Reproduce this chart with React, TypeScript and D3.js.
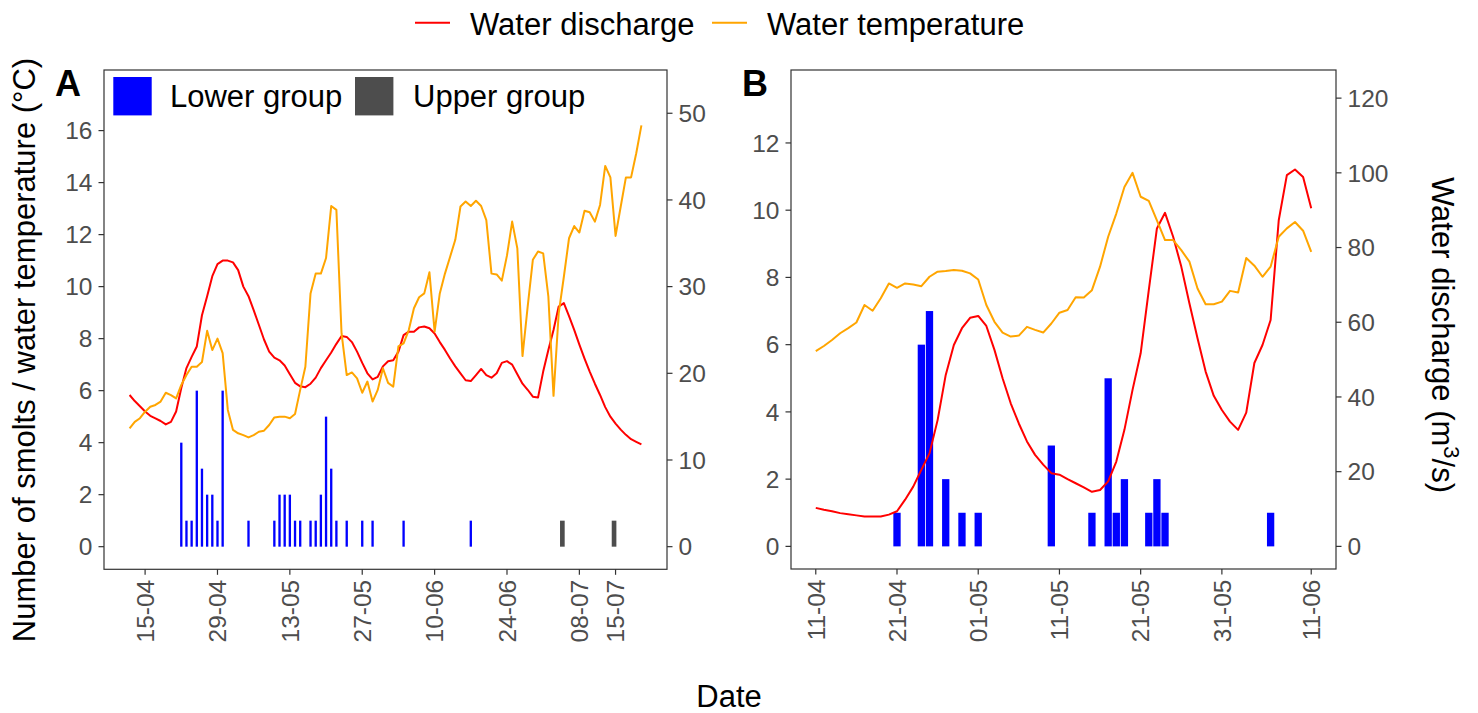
import React from 'react';
import * as d3 from 'd3';

// ---------- Panel A data ----------
const A_START = '2019-04-12';
const A_TEMP = [
  4.55, 4.8, 4.94, 5.19, 5.38, 5.45, 5.58, 5.92, 5.83, 5.7,
  6.22, 6.6, 6.92, 6.92, 7.1, 8.3, 7.56, 8.0, 7.44, 5.26,
  4.49, 4.36, 4.29, 4.2, 4.29, 4.42, 4.46, 4.68, 4.97, 5.0,
  5.0, 4.94, 5.1, 6.03, 6.92, 9.74, 10.5, 10.5, 11.1, 13.1,
  12.95, 8.2, 6.6, 6.7, 6.47, 5.92, 6.35, 5.58, 6.03, 6.86,
  6.3, 6.15, 7.7, 7.82, 8.33, 9.17, 9.59, 9.74, 10.55, 8.27,
  9.74, 10.5, 11.15, 11.8, 13.08, 13.27, 13.1, 13.3, 13.1, 12.56,
  10.5, 10.47, 10.23, 11.2, 12.5, 11.47, 7.33, 9.23, 11.03, 11.35,
  11.28, 9.62, 5.8, 8.97, 10.38, 11.86, 12.33, 12.08, 12.92, 12.86,
  12.5, 13.14, 14.64, 14.2, 11.95, 13.08, 14.2, 14.2, 15.13, 16.2,
];
const A_DISCHARGE = [
  17.5, 16.8, 16.2, 15.6, 15.1, 14.8, 14.5, 14.1, 14.4, 15.6,
  18.3, 20.6, 21.9, 23.1, 26.7, 28.9, 31.2, 32.6, 33.0, 33.0,
  32.8, 31.9, 30.0, 28.9, 27.3, 25.6, 23.9, 22.5, 21.8, 21.5,
  20.9, 19.9, 18.9, 18.5, 18.4, 18.8, 19.5, 20.6, 21.5, 22.4,
  23.4, 24.3, 24.2, 23.6, 22.5, 21.2, 20.0, 19.3, 19.6, 20.8,
  21.4, 21.5, 22.5, 24.4, 24.8, 24.8, 25.3, 25.4, 25.2, 24.6,
  23.6, 22.7, 21.7, 20.8, 20.0, 19.2, 19.1, 19.8, 20.5, 19.8,
  19.5, 20.0, 21.2, 21.4, 21.0, 19.9, 18.8, 18.1, 17.3, 17.2,
  20.2, 22.7, 25.0, 27.7, 28.1, 26.6, 25.0, 23.3, 21.7, 20.2,
  18.8, 17.5, 16.1, 15.0, 14.2, 13.5, 12.9, 12.4, 12.1, 11.8,
];
const A_LOWER_DATES = [
  '2019-04-22', '2019-04-23', '2019-04-24', '2019-04-25', '2019-04-26',
  '2019-04-27', '2019-04-28', '2019-04-29', '2019-04-30', '2019-05-05',
  '2019-05-10', '2019-05-11', '2019-05-12', '2019-05-13', '2019-05-14',
  '2019-05-15', '2019-05-17', '2019-05-18', '2019-05-19', '2019-05-20',
  '2019-05-21', '2019-05-22', '2019-05-24', '2019-05-27', '2019-05-29',
  '2019-06-04', '2019-06-17',
];
const A_LOWER_COUNTS = [
  4, 1, 1, 6, 3, 2, 2, 1, 6, 1,
  1, 2, 2, 2, 1, 1, 1, 1, 2, 5,
  3, 1, 1, 1, 1, 1, 1,
];
const A_UPPER_DATES = ['2019-07-04T17:00', '2019-07-14T17:00'];
const A_UPPER_COUNTS = [1, 1];
const A_X_TICKS = ['2019-04-15', '2019-04-29', '2019-05-13', '2019-05-27', '2019-06-10', '2019-06-24', '2019-07-08', '2019-07-15'];
const A_Y_TICKS = [0, 2, 4, 6, 8, 10, 12, 14, 16];
const A_Y2_TICKS = [0, 10, 20, 30, 40, 50];
const A_RATIO = 3;
const A_Y_DOMAIN = [-0.87, 18.33];

// ---------- Panel B data ----------
const B_START = '2019-04-11';
const B_TEMP = [
  5.81, 5.96, 6.14, 6.34, 6.49, 6.66, 7.18, 7.01, 7.38, 7.82,
  7.69, 7.82, 7.79, 7.74, 8.02, 8.17, 8.19, 8.22, 8.2, 8.12,
  7.94, 7.18, 6.68, 6.36, 6.24, 6.27, 6.53, 6.44, 6.36, 6.63,
  6.95, 7.03, 7.41, 7.4, 7.62, 8.32, 9.21, 9.9, 10.69, 11.11,
  10.4, 10.28, 9.7, 9.11, 9.11, 8.81, 8.47, 7.67, 7.2, 7.2,
  7.28, 7.6, 7.55, 8.58, 8.35, 8.02, 8.32, 9.21, 9.46, 9.65,
  9.39, 8.76,
];
const B_DISCHARGE = [
  10.3, 9.8, 9.4, 8.9, 8.6, 8.3, 8.0, 8.0, 8.0, 8.5,
  9.4, 12.5, 16.0, 20.5, 24.9, 33.8, 45.9, 53.9, 58.4, 61.2,
  61.7, 59.0, 52.6, 45.0, 38.3, 32.9, 28.1, 24.5, 21.9, 19.6,
  19.2, 18.0, 16.9, 15.8, 14.6, 15.1, 17.4, 22.7, 31.2, 41.9,
  51.7, 68.6, 85.1, 89.3, 82.9, 74.9, 65.1, 55.7, 46.8, 40.3,
  36.5, 33.4, 31.2, 35.8, 49.1, 53.9, 60.6, 87.3, 99.4, 100.9,
  98.9, 90.5,
];
const B_LOWER_DATES = [
  '2019-04-21', '2019-04-24', '2019-04-25', '2019-04-27', '2019-04-29',
  '2019-05-01', '2019-05-10', '2019-05-15', '2019-05-17', '2019-05-18',
  '2019-05-19', '2019-05-22', '2019-05-23', '2019-05-24', '2019-06-06',
];
const B_LOWER_COUNTS = [1, 6, 7, 2, 1, 1, 3, 1, 5, 1, 2, 1, 2, 1, 1];
const B_X_TICKS = ['2019-04-11', '2019-04-21', '2019-05-01', '2019-05-11', '2019-05-21', '2019-05-31', '2019-06-11'];
const B_Y_TICKS = [0, 2, 4, 6, 8, 10, 12];
const B_Y2_TICKS = [0, 20, 40, 60, 80, 100, 120];
const B_RATIO = 9;
const B_Y_DOMAIN = [-0.673, 14.17];

// ---------- style ----------
const FONT = "'Liberation Sans', Arial, Helvetica, sans-serif";
const RED = '#FF0000';
const ORANGE = '#FFA500';
const BLUE = '#0000FF';
const GREY = '#4D4D4D';
const AXIS = '#333333';
const TICK_TXT = '#4D4D4D';
const DAY = 86400000;

const parse = (s: string) => {
  const p = d3.utcParse('%Y-%m-%dT%H:%M')(s) || d3.utcParse('%Y-%m-%d')(s);
  return p as Date;
};
const seriesDates = (start: string, n: number) => {
  const s = parse(start);
  return d3.range(n).map((i) => d3.utcDay.offset(s, i));
};
const fmt = d3.utcFormat('%d-%m');

interface Bars { dates: string[]; counts: number[]; color: string; width: number }

interface PanelProps {
  x0: number; x1: number; top: number; bottom: number;
  start: string; temp: number[]; discharge: number[]; ratio: number;
  yDomain: number[]; yTicks: number[]; y2Ticks: number[]; xTicks: string[];
  bars: Bars[]; tag: string;
}

function Panel(p: PanelProps) {
  const dates = seriesDates(p.start, p.temp.length);
  const [d0, d1] = d3.extent(dates) as [Date, Date];
  const span = +d1 - +d0;
  const x = d3.scaleUtc()
    .domain([new Date(+d0 - 0.05 * span), new Date(+d1 + 0.05 * span)])
    .range([p.x0, p.x1]);
  const y = d3.scaleLinear().domain(p.yDomain).range([p.bottom, p.top]);
  const y2 = d3.scaleLinear().domain(p.yDomain.map((v) => v * p.ratio)).range([p.bottom, p.top]);

  const tempLine = d3.line<number>().x((_, i) => x(dates[i])).y((v) => y(v));
  const disLine = d3.line<number>().x((_, i) => x(dates[i])).y((v) => y2(v));

  const tl = 5.5;
  return (
    <g>
      {p.bars.map((b, bi) =>
        b.dates.map((ds, i) => {
          const dt = parse(ds);
          const w = x(new Date(+dt + b.width * DAY)) - x(dt);
          const cx = x(dt);
          return (
            <rect key={`${bi}-${i}`} x={cx - w / 2} width={w} y={y(b.counts[i])}
              height={y(0) - y(b.counts[i])} fill={b.color} />
          );
        })
      )}
      <path d={disLine(p.discharge) || ''} fill="none" stroke={RED} strokeWidth={2} strokeLinejoin="round" />
      <path d={tempLine(p.temp) || ''} fill="none" stroke={ORANGE} strokeWidth={2} strokeLinejoin="round" />
      <rect x={p.x0} y={p.top} width={p.x1 - p.x0} height={p.bottom - p.top} fill="none" stroke={AXIS} strokeWidth={1.2} />
      {p.yTicks.map((t) => (
        <g key={`yl${t}`}>
          <line x1={p.x0 - tl} x2={p.x0} y1={y(t)} y2={y(t)} stroke={AXIS} strokeWidth={1.2} />
          <text x={p.x0 - tl - 6} y={y(t)} dy="0.36em" textAnchor="end" fontSize={24.5} fill={TICK_TXT} fontFamily={FONT}>{t}</text>
        </g>
      ))}
      {p.y2Ticks.map((t) => (
        <g key={`yr${t}`}>
          <line x1={p.x1} x2={p.x1 + tl} y1={y2(t)} y2={y2(t)} stroke={AXIS} strokeWidth={1.2} />
          <text x={p.x1 + tl + 6} y={y2(t)} dy="0.36em" textAnchor="start" fontSize={24.5} fill={TICK_TXT} fontFamily={FONT}>{t}</text>
        </g>
      ))}
      {p.xTicks.map((ts) => {
        const xx = x(parse(ts));
        const yy = p.bottom + tl + 5;
        return (
          <g key={`x${ts}`}>
            <line x1={xx} x2={xx} y1={p.bottom} y2={p.bottom + tl} stroke={AXIS} strokeWidth={1.2} />
            <text transform={`translate(${xx},${yy}) rotate(-90)`} dy="0.36em" textAnchor="end" fontSize={24.5} fill={TICK_TXT} fontFamily={FONT}>{fmt(parse(ts))}</text>
          </g>
        );
      })}
      <text x={p.x0 - 49} y={p.top + 25.5} fontSize={36} fontWeight="bold" fontFamily={FONT} fill="#000">{p.tag}</text>
    </g>
  );
}

export default function App() {
  return (
    <svg width={1478} height={713} style={{ position: 'absolute', left: 0, top: 0, background: '#fff' }}
      fontFamily={FONT}>
      <rect width={1478} height={713} fill="#fff" />
      {/* top legend */}
      <line x1={415} x2={450} y1={22.7} y2={22.7} stroke={RED} strokeWidth={2} />
      <text x={470} y={35} fontSize={31} fill="#000">Water discharge</text>
      <line x1={712} x2={747} y1={22.7} y2={22.7} stroke={ORANGE} strokeWidth={2} />
      <text x={767} y={35} fontSize={31} fill="#000">Water temperature</text>

      <Panel x0={104} x1={667} top={70} bottom={569.3} start={A_START} temp={A_TEMP}
        discharge={A_DISCHARGE} ratio={A_RATIO} yDomain={A_Y_DOMAIN} yTicks={A_Y_TICKS}
        y2Ticks={A_Y2_TICKS} xTicks={A_X_TICKS} tag="A"
        bars={[
          { dates: A_LOWER_DATES, counts: A_LOWER_COUNTS, color: BLUE, width: 0.45 },
          { dates: A_UPPER_DATES, counts: A_UPPER_COUNTS, color: GREY, width: 0.9 },
        ]} />
      <Panel x0={791} x1={1336} top={70} bottom={569} start={B_START} temp={B_TEMP}
        discharge={B_DISCHARGE} ratio={B_RATIO} yDomain={B_Y_DOMAIN} yTicks={B_Y_TICKS}
        y2Ticks={B_Y2_TICKS} xTicks={B_X_TICKS} tag="B"
        bars={[{ dates: B_LOWER_DATES, counts: B_LOWER_COUNTS, color: BLUE, width: 0.9 }]} />

      {/* panel A inner legend */}
      <rect x={113.3} y={77} width={38.4} height={38.4} fill={BLUE} />
      <text x={170} y={107} fontSize={31} fill="#000">Lower group</text>
      <rect x={355} y={77} width={38.4} height={38.4} fill={GREY} />
      <text x={413} y={107} fontSize={31} fill="#000">Upper group</text>

      {/* axis titles */}
      <text transform="translate(35,350) rotate(-90)" textAnchor="middle" fontSize={31} fill="#000">
        Number of smolts / water temperature (°C)
      </text>
      <text transform="translate(1432,335) rotate(90)" textAnchor="middle" fontSize={31} fill="#000">
        Water discharge (m<tspan fontSize={22} dy={-12}>3</tspan><tspan dy={12}>/s)</tspan>
      </text>
      <text x={729} y={707} textAnchor="middle" fontSize={31} fill="#000">Date</text>
    </svg>
  );
}
